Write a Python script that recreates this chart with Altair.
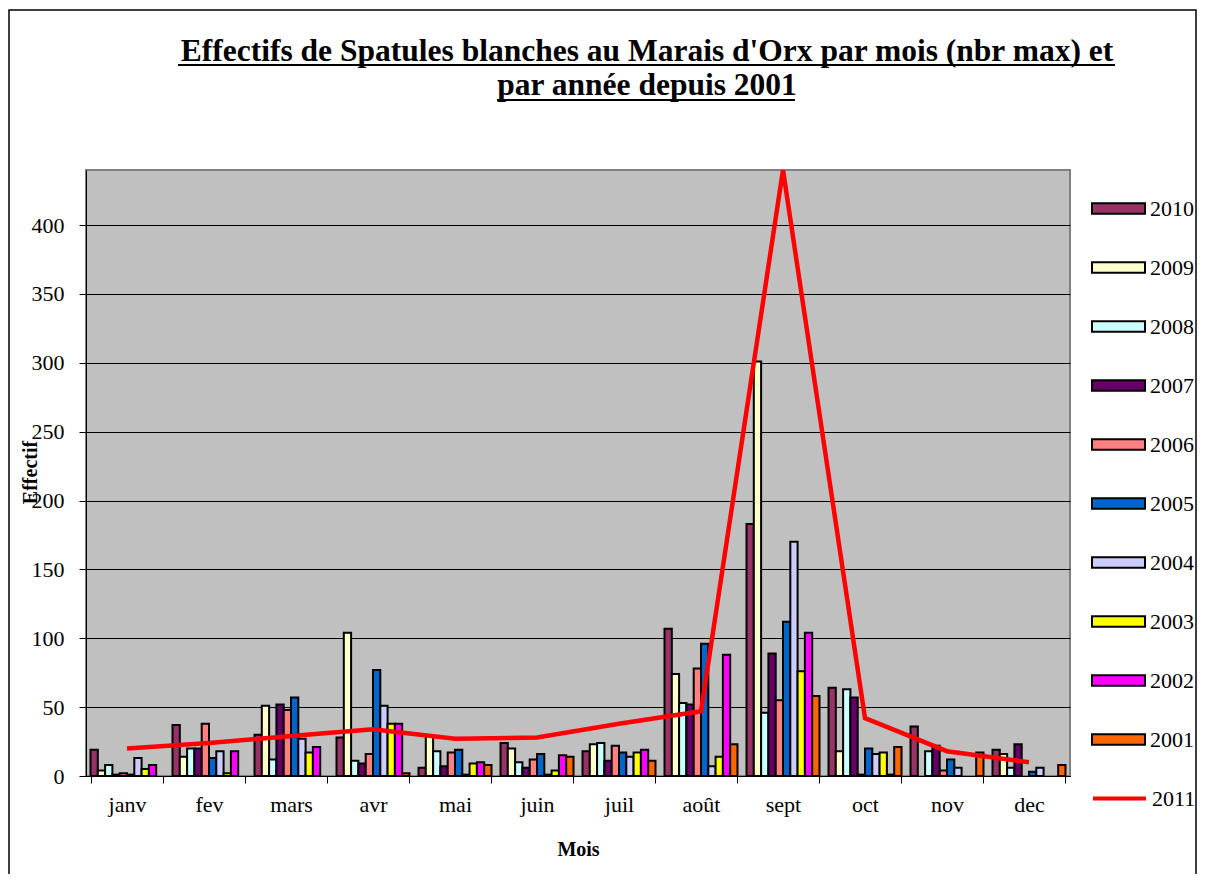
import altair as alt
import pandas as pd

months = ["janv", "fev", "mars", "avr", "mai", "juin", "juil", "août", "sept", "oct", "nov", "dec"]
years = ["2010", "2009", "2008", "2007", "2006", "2005", "2004", "2003", "2002", "2001"]

v2010 = [19, 37, 30, 28, 6, 24, 18, 107, 183, 64, 36, 19]
v2009 = [4, 14, 51, 104, 29, 20, 23, 74, 301, 18, 0, 16]
v2008 = [8, 20, 12, 11, 18, 10, 24, 53, 46, 63, 18, 6]
v2007 = [1, 20, 52, 9, 7, 6, 11, 52, 89, 57, 22, 23]
v2006 = [2, 38, 48, 16, 17, 12, 22, 78, 55, 1, 4, 0]
v2005 = [1, 13, 57, 77, 19, 16, 17, 96, 112, 20, 12, 3]
v2004 = [13, 18, 27, 51, 1, 1, 14, 7, 170, 16, 6, 6]
v2003 = [5, 2, 17, 38, 9, 4, 17, 14, 76, 17, 0, 0]
v2002 = [8, 18, 21, 38, 10, 15, 19, 88, 104, 1, 0, 0]
v2001 = [0, 0, 0, 2, 8, 14, 11, 23, 58, 21, 17, 8]
v2011 = [20, 24, 29, 34, 27, 28, 38, 47, 440, 42, 18, 10]

colors = ["#993366", "#FFFFCC", "#CCFFFF", "#660066", "#FF8080",
          "#0066CC", "#CCCCFF", "#FFFF00", "#FF00FF", "#FF6600"]

title1 = "Effectifs de Spatules blanches au Marais d'Orx par mois (nbr max) et"
title2 = "par année depuis 2001"

series = [v2010, v2009, v2008, v2007, v2006, v2005, v2004, v2003, v2002, v2001]
rows = []
for y, vals in zip(years, series):
    for m, v in zip(months, vals):
        rows.append({"mois": m, "annee": y, "effectif": v})
bars_df = pd.DataFrame(rows)
line_df = pd.DataFrame({"mois": months, "effectif": v2011, "serie": ["2011"] * 12})

SERIF = "Liberation Serif"
W, H = 984, 606

xenc = alt.X("mois:N", sort=months,
             scale=alt.Scale(paddingInner=0.11, paddingOuter=0.055),
             axis=alt.Axis(title="Mois", labelAngle=0, tickBand="extent",
                           labelFont=SERIF, labelFontSize=22, labelColor="black",
                           labelPadding=11, tickSize=7, tickColor="black",
                           domainColor="black", titleFont=SERIF, titleFontSize=20,
                           titleFontWeight="bold", titleColor="black", titlePadding=24,
                           grid=False))
yscale = alt.Scale(domain=[0, 440], nice=False)
yaxis = alt.Axis(title="Effectif", values=list(range(0, 401, 50)), grid=True,
                 gridColor="black", gridWidth=1, tickSize=7, tickColor="black",
                 domainColor="black", labelFont=SERIF, labelFontSize=22,
                 labelColor="black", labelPadding=15, titleFont=SERIF,
                 titleFontSize=20, titleFontWeight="bold", titleColor="black",
                 titleX=-46, titleY=302)

bars = alt.Chart(bars_df).transform_filter("datum.effectif > 0").mark_bar(
    stroke="black", strokeWidth=2
).encode(
    x=xenc,
    xOffset=alt.XOffset("annee:N", sort=years, scale=alt.Scale(paddingInner=0, paddingOuter=0)),
    y=alt.Y("effectif:Q", scale=yscale, axis=yaxis),
    fill=alt.Fill("annee:N", sort=years,
                  scale=alt.Scale(domain=years, range=colors),
                  legend=alt.Legend(title=None, orient="none", legendX=1005, legendY=11,
                                    symbolType="M-1,-0.2H1V0.2H-1Z", symbolSize=2809,
                                    symbolStrokeColor="black", symbolStrokeWidth=2,
                                    symbolOpacity=1, labelFont=SERIF, labelFontSize=22,
                                    labelColor="black", labelOffset=4, rowPadding=20,
                                    padding=0)),
)

line = alt.Chart(line_df).mark_line(strokeWidth=4.5, clip=True).encode(
    x=alt.X("mois:N", sort=months),
    y=alt.Y("effectif:Q", scale=yscale),
    stroke=alt.Stroke("serie:N", scale=alt.Scale(domain=["2011"], range=["#FF0000"]),
                      legend=alt.Legend(title=None, orient="none", legendX=1005, legendY=600,
                                        symbolType="stroke", symbolSize=2809,
                                        symbolStrokeWidth=4, labelFont=SERIF,
                                        labelFontSize=22, labelColor="black",
                                        labelOffset=4, padding=0)),
)

one = pd.DataFrame({"a": [0]})
t1 = alt.Chart(one).mark_text(font=SERIF, fontSize=31.5, fontWeight="bold", color="black",
                              align="center", baseline="alphabetic").encode(
    text=alt.value(title1), x=alt.value(561), y=alt.value(-109))
t2 = alt.Chart(one).mark_text(font=SERIF, fontSize=31.5, fontWeight="bold", color="black",
                              align="center", baseline="alphabetic").encode(
    text=alt.value(title2), x=alt.value(561), y=alt.value(-75))
underline1 = alt.Chart(one).mark_rule(color="black", strokeWidth=2).encode(
    x=alt.value(92), x2=alt.value(1029), y=alt.value(-105))
underline2 = alt.Chart(one).mark_rule(color="black", strokeWidth=2).encode(
    x=alt.value(411), x2=alt.value(709), y=alt.value(-70))
frame = alt.Chart(one).mark_rect(fill=None, stroke="black", strokeWidth=1.5).encode(
    x=alt.value(-77), x2=alt.value(1110), y=alt.value(-160), y2=alt.value(720))

chart = alt.layer(frame, bars, line, t1, t2, underline1, underline2).resolve_scale(
    fill="independent", stroke="independent"
).properties(
    width=W, height=H,
    autosize=alt.AutoSizeParams(type="none"),
    padding={"left": 78, "top": 162, "right": 128, "bottom": 98},
    background="white",
).configure(
    font=SERIF
).configure_view(
    fill="#C0C0C0", stroke="#808080", strokeWidth=2
)

chart.save("out.html", embed_options={"renderer": "svg", "actions": False})
